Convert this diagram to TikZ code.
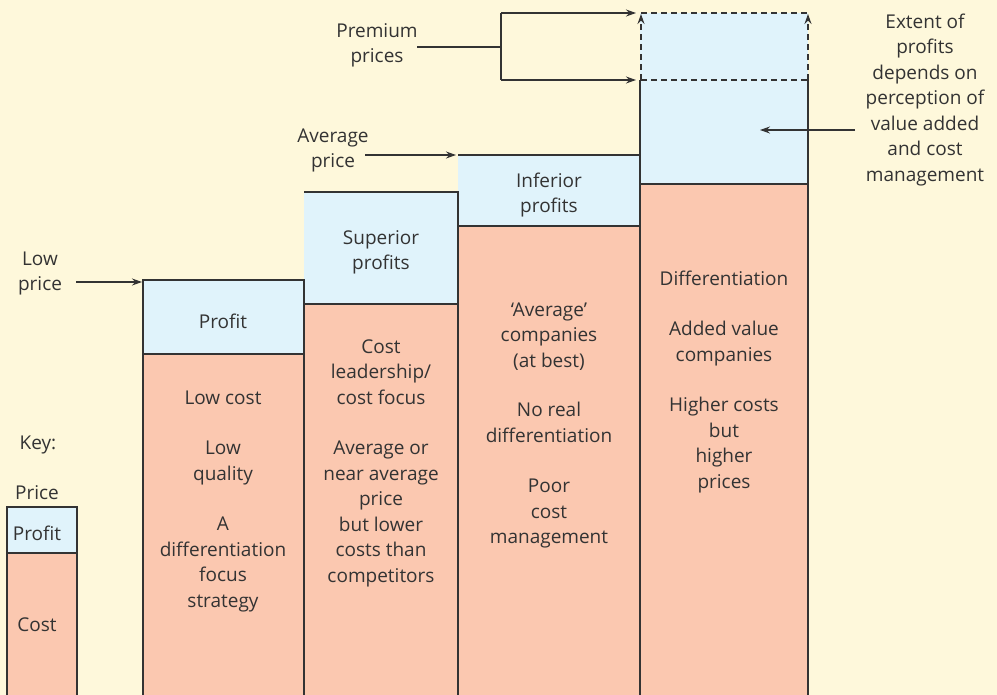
\documentclass[tikz,border=0pt]{standalone}
\usepackage{fontspec}
\setmainfont{Open Sans}
\usetikzlibrary{arrows.meta}
\definecolor{bg}{HTML}{FEF8DB}
\definecolor{profitc}{HTML}{E0F3FB}
\definecolor{costc}{HTML}{FBC8B0}
\definecolor{ink}{HTML}{333333}
\begin{document}
\begin{tikzpicture}[x=1pt,y=-1pt,
  lbl/.style={align=center, inner sep=0pt, anchor=north, text=ink,
    font=\fontsize{19}{25.5}\selectfont},
  edge/.style={draw=ink, line width=1.1pt},
  arr/.style={draw=ink, line width=1.1pt, -{Stealth[length=10pt,width=7pt]}},
  dashline/.style={draw=ink, line width=1.1pt, dash pattern=on 6pt off 4pt},
  profitfill/.style={fill=profitc},
  costfill/.style={fill=costc},
]
\useasboundingbox (0,0) rectangle (997,695);
\clip (0,0) rectangle (997,695);
\fill[bg] (0,0) rectangle (997,695);

% ---- bars: fills ----
% key bar
\fill[profitfill] (7,507) rectangle (77,553);
\fill[costfill] (7,553) rectangle (77,700);
% low price bar
\fill[profitfill] (143,280) rectangle (304,354);
\fill[costfill] (143,354) rectangle (304,700);
% superior profit bar
\fill[profitfill] (304,192) rectangle (458,304);
\fill[costfill] (304,304) rectangle (458,700);
% average bar
\fill[profitfill] (458,155) rectangle (640,226);
\fill[costfill] (458,226) rectangle (640,700);
% differentiation bar with premium zone
\fill[profitfill] (640,13) rectangle (808,184);
\fill[costfill] (640,184) rectangle (808,700);

% ---- bars: outlines ----
\draw[edge] (7,700) -- (7,507) -- (77,507) -- (77,700);
\draw[edge] (7,553) -- (77,553);
\draw[edge] (143,700) -- (143,280) -- (304,280) -- (304,700);
\draw[edge] (143,354) -- (304,354);
\draw[edge] (304,192) -- (458,192) -- (458,700);
\draw[edge] (304,304) -- (458,304);
\draw[edge] (458,155) -- (640,155) -- (640,700);
\draw[edge] (458,226) -- (640,226);
\draw[edge] (640,80) -- (640,700);
\draw[edge] (808,80) -- (808,700);
\draw[edge] (640,184) -- (808,184);
% premium zone outline
\draw[dashline] (641,13) -- (808,13);
\draw[dashline] (641,80) -- (808,80);

% ---- labels ----
\node[lbl] (key) at (38,431) {\strut Key:};
\node[lbl] (price) at (37,481) {\strut Price};
\node[lbl] (kprofit) at (37,522) {\strut Profit};
\node[lbl] (kcost) at (37,613) {\strut Cost};

\node[lbl] (lowprice) at (40,247) {\strut Low\\price};
\node[lbl] (avgprice) at (333,124) {\strut Average\\price};
\node[lbl] (premium) at (377,19) {\strut Premium\\prices};
\node[lbl] (extent) at (925,10) {\strut Extent of\\profits\\depends on\\perception of\\value added\\and cost\\management};

\node[lbl] (p1) at (223,310) {\strut Profit};
\node[lbl] (c1) at (223,386) {\strut Low cost\\[25pt]Low\\quality\\[25pt]A\\differentiation\\focus\\strategy};
\node[lbl] (p2) at (381,226) {\strut Superior\\profits};
\node[lbl] (c2) at (381,335) {\strut Cost\\leadership/\\cost focus\\[25pt]Average or\\near average\\price\\but lower\\costs than\\competitors};
\node[lbl] (p3) at (549,169) {\strut Inferior\\profits};
\node[lbl] (c3) at (549,298) {\strut ‘Average’\\companies\\(at best)\\[24pt]No real\\differentiation\\[25pt]Poor\\cost\\management};
\node[lbl] (c4) at (724,267) {\strut Differentiation\\[25pt]Added value\\companies\\[25pt]Higher costs\\but\\higher\\prices};

% ---- connectors ----
\coordinate (lowtail) at (76,282);
\coordinate (lowtip) at (142,282);
\draw[arr] (lowtail) -- (lowtip);

\coordinate (avgtail) at (365,155);
\coordinate (avgtip) at (456,155);
\draw[arr] (avgtail) -- (avgtip);

\coordinate (premtail) at (417,47);
\coordinate (premjoin) at (501,47);
\coordinate (premtop) at (501,13);
\coordinate (prembot) at (501,80);
\coordinate (premtoptip) at (636,13);
\coordinate (prembottip) at (636,80);
\draw[edge] (premtail) -- (premjoin);
\draw[edge] (premtop) -- (prembot);
\draw[arr] (premtop) -- (premtoptip);
\draw[arr] (prembot) -- (prembottip);

% upward limits of the premium zone
\coordinate (upL0) at (641,80);
\coordinate (upL1) at (641,14);
\coordinate (upR0) at (808,80);
\coordinate (upR1) at (808,14);
\draw[dashline, -{Stealth[length=10pt,width=7pt]}] (upL0) -- (upL1);
\draw[dashline, -{Stealth[length=10pt,width=7pt]}] (upR0) -- (upR1);

\coordinate (exttail) at (855,130);
\coordinate (exttip) at (760,130);
\draw[arr] (exttail) -- (exttip);
\end{tikzpicture}
\end{document}
